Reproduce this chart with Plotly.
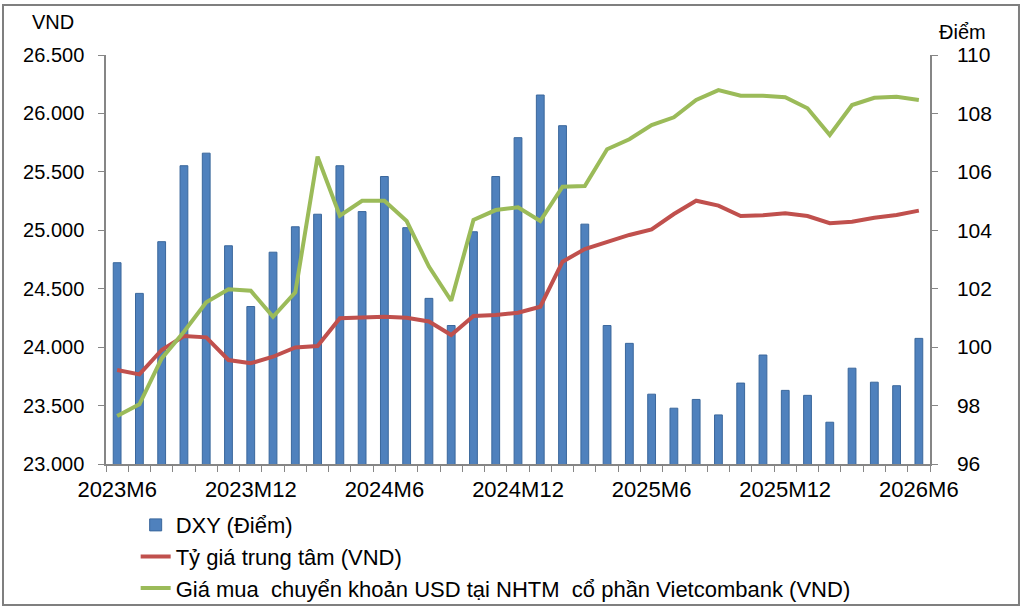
import plotly.graph_objects as go

months = []
for y in (2023, 2024, 2025, 2026):
    for m in range(1, 13):
        if (y == 2023 and m < 6) or (y == 2026 and m > 6):
            continue
        months.append(f"{y}M{m}")

tick_labels = ["2023M6", "2023M12", "2024M6", "2024M12", "2025M6", "2025M12", "2026M6"]

dxy = [102.89, 101.84, 103.61, 106.21, 106.64, 103.47, 101.39, 103.25, 104.12, 104.55,
       106.21, 104.64, 105.84, 104.09, 101.67, 100.74, 103.95, 105.84, 107.17, 108.63,
       107.58, 104.21, 100.74, 100.13, 98.39, 97.91, 98.21, 97.68, 98.77, 99.73,
       98.52, 98.35, 97.43, 99.28, 98.80, 98.68, 100.30]

central_rate = [23804, 23767, 23976, 24095, 24084, 23890, 23862, 23918, 23998, 24010,
                24247, 24255, 24260, 24252, 24220, 24104, 24266, 24275, 24295, 24346,
                24731, 24840, 24902, 24960, 25008, 25139, 25253, 25211, 25122, 25128,
                25145, 25122, 25060, 25074, 25108, 25131, 25168]

vcb_buy = [23411, 23511, 23904, 24132, 24383, 24495, 24483, 24260, 24469, 25630,
           25125, 25253, 25253, 25079, 24689, 24397, 25088, 25173, 25196, 25079,
           25373, 25379, 25693, 25779, 25901, 25967, 26115, 26200, 26152, 26152,
           26138, 26044, 25815, 26072, 26134, 26143, 26115]

FONT = "Liberation Sans"
AXIS_COLOR = "#868686"

fig = go.Figure()

fig.add_trace(go.Bar(
    x=months, y=dxy, name="DXY (Điểm)", yaxis="y",
    marker=dict(color="#4F81BD", line=dict(color="#3A679C", width=1)),
    legendgroup="a",
))
fig.add_trace(go.Scatter(
    x=months, y=central_rate, name="Tỷ giá trung tâm (VND)", yaxis="y2",
    mode="lines", line=dict(color="#C0504D", width=4), legendgroup="b",
))
fig.add_trace(go.Scatter(
    x=months, y=vcb_buy, name="Giá mua  chuyển khoản USD tại NHTM  cổ phần Vietcombank (VND)",
    yaxis="y2", mode="lines", line=dict(color="#9BBB59", width=4), legendgroup="c",
))

ticktext = [m if m in tick_labels else "" for m in months]

fig.update_layout(
    width=1024, height=612,
    margin=dict(l=106, r=94, t=55, b=148, autoexpand=False),
    paper_bgcolor="white", plot_bgcolor="white",
    font=dict(family=FONT, size=20, color="#000000"),
    separators=",.",
    bargap=0.65,
    showlegend=True,
    legend=dict(
        x=0.036, y=-0.098, xanchor="left", yanchor="top",
        orientation="v", traceorder="grouped", tracegroupgap=0,
        font=dict(family=FONT, size=22), bgcolor="rgba(0,0,0,0)",
    ),
    xaxis=dict(
        type="category", tickmode="array", tickvals=months, ticktext=ticktext,
        tickson="boundaries", ticks="outside", ticklen=6, tickcolor=AXIS_COLOR,
        showline=True, linecolor=AXIS_COLOR, linewidth=1.5, showgrid=False,
        tickfont=dict(size=22), tickangle=0, ticklabelstandoff=5,
    ),
    yaxis=dict(
        side="right", range=[96, 110], dtick=2, tick0=96,
        showline=True, linecolor=AXIS_COLOR, linewidth=1.5,
        ticks="outside", ticklen=6, tickcolor=AXIS_COLOR,
        showgrid=False, zeroline=False, tickfont=dict(size=21),
        ticklabelstandoff=15,
    ),
    yaxis2=dict(
        overlaying="y", side="left", range=[23000, 26500], dtick=500, tick0=23000,
        tickformat=",", showline=True, linecolor=AXIS_COLOR, linewidth=1.5,
        ticks="outside", ticklen=6, tickcolor=AXIS_COLOR,
        showgrid=False, zeroline=False, tickfont=dict(size=20),
        ticklabelstandoff=10,
    ),
    annotations=[
        dict(text="VND", xref="paper", yref="paper", x=-0.064, y=1.081,
             showarrow=False, font=dict(size=20), xanchor="center", yanchor="middle"),
        dict(text="Điểm", xref="paper", yref="paper", x=1.039, y=1.056,
             showarrow=False, font=dict(size=20), xanchor="center", yanchor="middle"),
    ],
    shapes=[
        dict(type="rect", xref="paper", yref="paper", x0=-0.125, x1=1.108,
             y0=-0.345, y1=1.122, line=dict(color="#7F7F7F", width=2), layer="below"),
    ],
)

fig.write_html("out.html")
